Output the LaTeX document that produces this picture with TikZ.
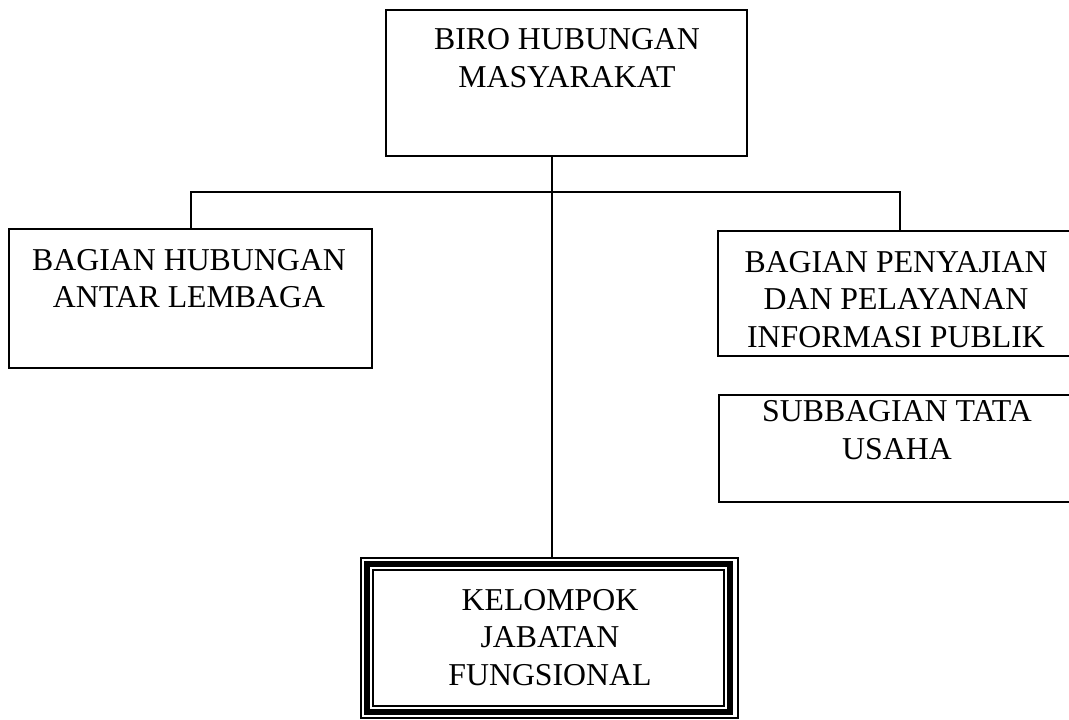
\documentclass[tikz,border=0pt]{standalone}
\usepackage{fontspec}
\setmainfont{Liberation Serif}
\begin{document}
\begin{tikzpicture}[x=1pt,y=-1pt,
  box/.style={draw=black,line width=1.8pt,rectangle,inner sep=0pt,outer sep=0pt},
  lbl/.style={align=center,inner sep=0pt,font=\fontsize{31.8}{37.5}\selectfont},
  conn/.style={draw=black,line width=1.8pt}]
\clip (0,0) rectangle (1069,720);
\fill[white] (0,0) rectangle (1069,720);
% boxes
\node[box,minimum width=361pt,minimum height=146pt] (biro) at (566.5,83) {};
\node[lbl] (birot) at (567,58) {BIRO HUBUNGAN\\MASYARAKAT};
\node[box,minimum width=363pt,minimum height=138.4pt] (bhal) at (190.8,298.5) {};
\node[lbl] (bhalt) at (189,278.5) {BAGIAN HUBUNGAN\\ANTAR LEMBAGA};
\node[box,minimum width=356pt,minimum height=125pt] (bppi) at (896,293.7) {};
\node[lbl] (bppit) at (896,299.5) {BAGIAN PENYAJIAN\\DAN PELAYANAN\\INFORMASI PUBLIK};
\node[box,minimum width=355pt,minimum height=107.5pt] (stu) at (896.5,448.5) {};
\node[lbl] (stut) at (897,430) {SUBBAGIAN TATA\\USAHA};
\node[box,line width=6pt,minimum width=363pt,minimum height=148.6pt] (kjf) at (548.5,638) {};
\draw[line width=1.8pt] ([shift={(-6,-6)}]kjf.north west) rectangle ([shift={(7.7,6)}]kjf.south east);
\draw[line width=1.8pt] ([shift={(6,6)}]kjf.north west) rectangle ([shift={(-6.3,-6.6)}]kjf.south east);
\node[lbl] (kjft) at (550,637.5) {KELOMPOK\\JABATAN\\FUNGSIONAL};
% connectors
\coordinate (j) at (552,192);
\coordinate (rd) at (900,192);
\draw[conn] (biro.south -| j) -- ([yshift=6pt]kjf.north -| j);
\draw[conn] (bhal.north) |- (rd) -- (rd |- bppi.north);
\end{tikzpicture}
\end{document}
